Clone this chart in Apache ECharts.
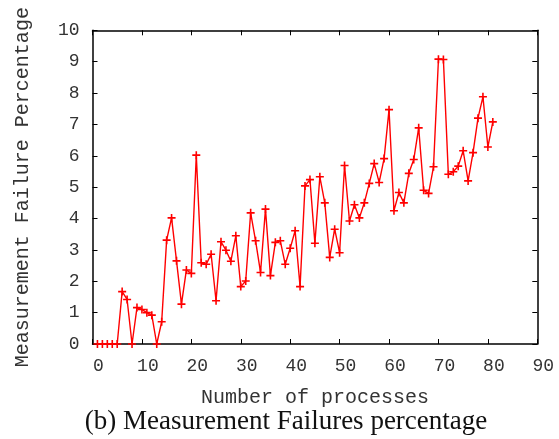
<!DOCTYPE html>
<html>
<head>
<meta charset="utf-8">
<script src="https://cdn.jsdelivr.net/npm/echarts@6/dist/echarts.min.js"></script>
<style>
html,body{margin:0;padding:0;background:#fff;}
#chart{width:559px;height:439px;}
</style>
</head>
<body>
<div id="chart"></div>
<script>
// Data
var processes = [1,2,3,4,5,6,7,8,9,10,11,12,13,14,15,16,17,18,19,20,
  21,22,23,24,25,26,27,28,29,30,31,32,33,34,35,36,37,38,39,40,
  41,42,43,44,45,46,47,48,49,50,51,52,53,54,55,56,57,58,59,60,
  61,62,63,64,65,66,67,68,69,70,71,72,73,74,75,76,77,78,79,80,81];
var failurePct = [0,0,0,0,0,1.67,1.42,0,1.16,1.10,1.00,0.92,0,0.71,3.31,4.02,2.65,1.27,2.36,2.25,
  6.02,2.59,2.54,2.86,1.38,3.26,2.99,2.64,3.45,1.83,2.01,4.18,3.29,2.28,4.30,2.18,3.24,3.29,2.54,3.05,
  3.61,1.83,5.04,5.24,3.21,5.33,4.50,2.76,3.66,2.91,5.69,3.92,4.44,4.02,4.50,5.12,5.75,5.15,5.91,7.47,
  4.25,4.83,4.50,5.44,5.88,6.89,4.90,4.80,5.65,9.08,9.07,5.41,5.49,5.67,6.16,5.20,6.10,7.20,7.88,6.28,7.08];
var xTitle = 'Number of processes';
var yTitle = 'Measurement Failure Percentage';
var caption = '(b) Measurement Failures percentage';

var seriesData = processes.map(function (p, i) { return [p, failurePct[i]]; });

var mono = '"Courier New", "Liberation Mono", monospace';
var chart = echarts.init(document.getElementById('chart'), null, {renderer: 'canvas'});
var axisLineStyle = {color: '#000', width: 1.5};
var tickStyle = {show: true, inside: true, length: 5, lineStyle: {color: '#000', width: 1}};

chart.setOption({
  animation: false,
  backgroundColor: '#fff',
  grid: {left: 92.5, right: 21.7, top: 30.3, bottom: 95, containLabel: false},
  xAxis: [{
    type: 'value', min: 0, max: 90, interval: 10, position: 'bottom',
    axisLine: {show: true, onZero: false, lineStyle: axisLineStyle},
    axisTick: tickStyle,
    splitLine: {show: false},
    axisLabel: {color: '#333', fontFamily: mono, fontSize: 18, margin: 13, padding: [0, 0, 0, 12]},
    name: xTitle, nameLocation: 'middle', nameGap: 44,
    nameTextStyle: {color: '#333', fontFamily: mono, fontSize: 20}
  }, {
    type: 'value', min: 0, max: 90, interval: 10, position: 'top',
    axisLine: {show: true, onZero: false, lineStyle: axisLineStyle},
    axisTick: tickStyle, axisLabel: {show: false}, splitLine: {show: false}
  }],
  yAxis: [{
    type: 'value', min: 0, max: 10, interval: 1, position: 'left',
    axisLine: {show: true, onZero: false, lineStyle: axisLineStyle},
    axisTick: tickStyle,
    splitLine: {show: false},
    axisLabel: {color: '#333', fontFamily: mono, fontSize: 18, margin: 13},
    name: yTitle, nameLocation: 'middle', nameGap: 60, nameRotate: 90,
    nameTextStyle: {color: '#333', fontFamily: mono, fontSize: 20}
  }, {
    type: 'value', min: 0, max: 10, interval: 1, position: 'right',
    axisLine: {show: true, onZero: false, lineStyle: axisLineStyle},
    axisTick: tickStyle, axisLabel: {show: false}, splitLine: {show: false}
  }],
  graphic: [{
    type: 'text', x: 286, y: 422,
    style: {text: caption, font: '27px "Liberation Serif", "Times New Roman", serif',
      fill: '#111', textAlign: 'center', textVerticalAlign: 'middle'}
  }],
  series: [{
    type: 'line',
    xAxisIndex: 0, yAxisIndex: 0,
    data: seriesData,
    symbol: 'path://M4,0h2v4h4v2h-4v4h-2v-4h-4v-2h4z',
    symbolSize: 8,
    showAllSymbol: true,
    lineStyle: {color: '#ff0000', width: 1.4},
    itemStyle: {color: '#ff0000'},
    z: 3
  }]
});
</script>
</body>
</html>
